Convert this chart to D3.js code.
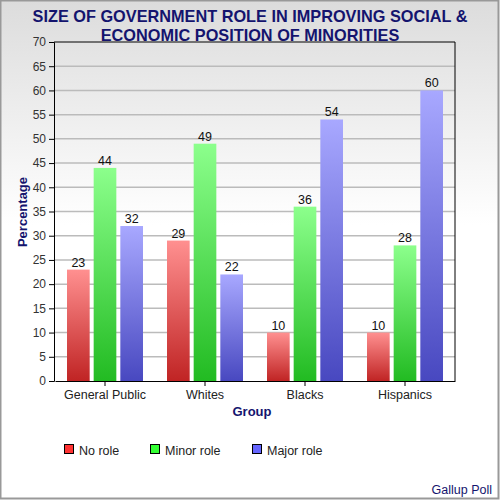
<!DOCTYPE html>
<html><head><meta charset="utf-8">
<script src="https://cdn.jsdelivr.net/npm/d3@7"></script>
<style>body{margin:0;}svg{display:block;font-family:"Liberation Sans",Arial,sans-serif;}</style>
</head><body><svg id="c" width="500" height="500"></svg>
<script>
const groups = ["General Public","Whites","Blacks","Hispanics"];
const seriesNames = ["No role","Minor role","Major role"];
const noRole = [23,29,10,10];
const minorRole = [44,49,36,28];
const majorRole = [32,22,54,60];
const yTicks = [0,5,10,15,20,25,30,35,40,45,50,55,60,65,70];
const series = [noRole, minorRole, majorRole];
const topCols = ["#ff9090","#8cff8c","#a8a8ff"];
const botCols = ["#c02424","#22bb22","#4848c0"];
const legCols = ["#ff3333","#33ff33","#6666ff"];

const svg = d3.select("#c");
const defs = svg.append("defs");
const bg = defs.append("linearGradient").attr("id","bg").attr("x1",0).attr("y1",0).attr("x2",0).attr("y2",1);
bg.append("stop").attr("offset","0").attr("stop-color","#dcdcdc");
bg.append("stop").attr("offset","0.45").attr("stop-color","#ffffff");
bg.append("stop").attr("offset","1").attr("stop-color","#ffffff");
series.forEach((s,i)=>{
  const g = defs.append("linearGradient").attr("id","g"+i).attr("x1",0).attr("y1",0).attr("x2",0).attr("y2",1);
  g.append("stop").attr("offset","0").attr("stop-color",topCols[i]);
  g.append("stop").attr("offset","1").attr("stop-color",botCols[i]);
});
svg.append("rect").attr("x",0.5).attr("y",0.5).attr("width",498).attr("height",498)
  .attr("fill","url(#bg)").attr("stroke","#999").attr("stroke-width",2);

const L=54, R=455, T=42, B=381;
const x = d3.scaleBand().domain(groups).range([L+1,R]);
const y = d3.scaleLinear().domain([0,70]).range([B,T]);
const xs = d3.scaleBand().domain(d3.range(3)).range([12,88]).paddingInner(0.15);

// grid
svg.append("g").selectAll("line").data(yTicks.filter(t=>t>0&&t<70)).join("line")
  .attr("x1",L).attr("x2",R).attr("y1",d=>y(d)).attr("y2",d=>y(d))
  .attr("stroke","#bbbbbb").attr("stroke-width",1.5);

// bars
groups.forEach((gname,gi)=>{
  series.forEach((s,si)=>{
    const bx = x(gname)+xs(si);
    svg.append("rect").attr("x",bx).attr("y",y(s[gi])).attr("width",xs.bandwidth())
      .attr("height",B-y(s[gi])).attr("fill","url(#g"+si+")");
    svg.append("text").attr("x",bx+xs.bandwidth()/2).attr("y",y(s[gi])-3)
      .attr("text-anchor","middle").attr("font-size",12.5).attr("fill","#111").text(s[gi]);
  });
});

// frame
svg.append("line").attr("x1",L).attr("x2",R).attr("y1",T).attr("y2",T).attr("stroke","#000");
svg.append("line").attr("x1",R).attr("x2",R).attr("y1",T).attr("y2",B).attr("stroke","#000");

const ya = svg.append("g").attr("transform",`translate(${L},0)`)
  .call(d3.axisLeft(y).tickValues(yTicks).tickSize(5).tickPadding(3));
ya.select(".domain").attr("stroke","#000");
ya.selectAll("text").attr("font-size",12).attr("fill","#333").attr("font-family","'Liberation Sans',Arial,sans-serif");
const xa = svg.append("g").attr("transform",`translate(0,${B})`)
  .call(d3.axisBottom(x).tickSize(5).tickSizeOuter(0).tickPadding(4));
xa.select(".domain").attr("stroke","#000");
xa.selectAll("text").attr("font-size",12.5).attr("fill","#222").attr("font-family","'Liberation Sans',Arial,sans-serif");

// titles
const navy = "#14146e";
svg.append("text").attr("x",250).attr("y",21.5).attr("text-anchor","middle").attr("font-size",16.3)
  .attr("font-weight","bold").attr("fill",navy).text("SIZE OF GOVERNMENT ROLE IN IMPROVING SOCIAL &");
svg.append("text").attr("x",250).attr("y",41).attr("text-anchor","middle").attr("font-size",16.3)
  .attr("font-weight","bold").attr("fill",navy).text("ECONOMIC POSITION OF MINORITIES");
svg.append("text").attr("transform","translate(27,212) rotate(-90)").attr("text-anchor","middle")
  .attr("font-size",13).attr("font-weight","bold").attr("fill",navy).text("Percentage");
svg.append("text").attr("x",252).attr("y",416).attr("text-anchor","middle")
  .attr("font-size",13).attr("font-weight","bold").attr("fill",navy).text("Group");

// legend
const legX = [64,150,252];
seriesNames.forEach((n,i)=>{
  svg.append("rect").attr("x",legX[i]+0.5).attr("y",444.5).attr("width",9).attr("height",9)
    .attr("fill",legCols[i]).attr("stroke","#000");
  svg.append("text").attr("x",legX[i]+15).attr("y",455).attr("font-size",12.5).attr("fill","#222").text(n);
});
svg.append("text").attr("x",492).attr("y",494).attr("text-anchor","end").attr("font-size",12.5)
  .attr("fill",navy).text("Gallup Poll");
</script></body></html>
